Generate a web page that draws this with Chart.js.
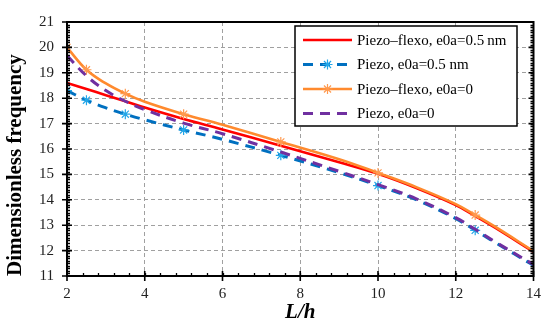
<!DOCTYPE html>
<html>
<head>
<meta charset="utf-8">
<script src="https://cdn.jsdelivr.net/npm/chart.js@4.4.0/dist/chart.umd.min.js"></script>
<style>
  body { margin: 0; background: #fff; }
  #wrap { width: 550px; height: 325px; position: relative; }
</style>
</head>
<body>
<div id="wrap"><canvas id="line-chart"></canvas></div>
<script>
// L/h values
const ratio = [2, 2.5, 3, 3.5, 4, 5, 6, 7.5, 9, 10, 11, 12, 12.5, 13, 14];
// points that carry a star marker in the original
const markerAt = [2, 2.5, 3.5, 5, 7.5, 10, 12.5];

const flexoNonlocal = [18.6, 18.36, 18.12, 17.88, 17.63, 17.18, 16.77, 16.13, 15.48, 15.02, 14.45, 13.79, 13.36, 12.91, 11.95];
const piezoNonlocal = [18.3, 17.92, 17.62, 17.37, 17.15, 16.75, 16.38, 15.75, 15.07, 14.56, 13.99, 13.26, 12.8, 12.33, 11.42];
const flexoLocal    = [20.0, 19.12, 18.58, 18.18, 17.86, 17.37, 16.95, 16.28, 15.6, 15.06, 14.49, 13.83, 13.4, 12.95, 11.98];
const piezoLocal    = [19.68, 18.88, 18.3, 17.88, 17.55, 17.02, 16.6, 15.88, 15.12, 14.6, 14.03, 13.3, 12.84, 12.36, 11.45];

const xTicks = [2, 4, 6, 8, 10, 12, 14];
const yTicks = [11, 12, 13, 14, 15, 16, 17, 18, 19, 20, 21];

const labels = ["Piezo\u2013flexo, e0a=0.5\u2009nm", "Piezo, e0a=0.5 nm", "Piezo\u2013flexo, e0a=0", "Piezo, e0a=0"];

const serif = "'Liberation Serif', 'Times New Roman', serif";

function pts(vals) {
  return ratio.map((x, i) => ({ x: x, y: vals[i] }));
}
function stars(r) {
  return ratio.map(x => markerAt.includes(x) ? r : 0);
}

// frame, tick marks and the boxed legend
const decorations = {
  id: 'decorations',
  afterDraw(chart) {
    const ctx = chart.ctx;
    const a = chart.chartArea;
    const xs = chart.scales.x, ys = chart.scales.y;
    ctx.save();
    ctx.strokeStyle = '#000';
    ctx.lineWidth = 1.3;
    ctx.beginPath();
    // minor x ticks
    for (let v = 2.4; v < 14; v += 0.4) {
      const px = Math.round(xs.getPixelForValue(v)) + 0.5;
      ctx.moveTo(px, a.bottom); ctx.lineTo(px, a.bottom - 3);
    }
    // minor y ticks, left and right
    for (let v = 11.1; v < 21; v += 0.1) {
      const py = Math.round(ys.getPixelForValue(v)) + 0.5;
      ctx.moveTo(a.left, py); ctx.lineTo(a.left + 3, py);
      ctx.moveTo(a.right, py); ctx.lineTo(a.right - 3, py);
    }
    ctx.stroke();
    ctx.lineWidth = 1.6;
    ctx.beginPath();
    xTicks.forEach(v => {
      const px = xs.getPixelForValue(v);
      ctx.moveTo(px, a.bottom - 5); ctx.lineTo(px, a.bottom + 5);
    });
    yTicks.forEach(v => {
      const py = ys.getPixelForValue(v);
      ctx.moveTo(a.left - 5, py); ctx.lineTo(a.left + 5, py);
      ctx.moveTo(a.right - 5, py); ctx.lineTo(a.right, py);
    });
    ctx.stroke();
    ctx.lineWidth = 2;
    ctx.strokeRect(a.left, a.top, a.right - a.left, a.bottom - a.top);

    // legend
    const bx = 295, by = 26, bw = 222, bh = 100;
    ctx.fillStyle = '#fff';
    ctx.fillRect(bx, by, bw, bh);
    ctx.lineWidth = 1.5;
    ctx.strokeRect(bx, by, bw, bh);
    const rows = [40, 64.5, 89, 113.5];
    chart.data.datasets.forEach((ds, i) => {
      const y = rows[i];
      ctx.save();
      ctx.strokeStyle = ds.borderColor;
      ctx.lineWidth = ds.borderWidth;
      ctx.setLineDash(ds.borderDash || []);
      ctx.beginPath();
      ctx.moveTo(303, y); ctx.lineTo(352, y);
      ctx.stroke();
      ctx.restore();
      if (ds.legendStar) {
        ctx.save();
        ctx.strokeStyle = ds.pointBorderColor;
        ctx.lineWidth = 1.2;
        ctx.beginPath();
        const r = 5;
        for (let k = 0; k < 4; k++) {
          const t = k * Math.PI / 4;
          ctx.moveTo(327.5 - r * Math.cos(t), y - r * Math.sin(t));
          ctx.lineTo(327.5 + r * Math.cos(t), y + r * Math.sin(t));
        }
        ctx.stroke();
        ctx.restore();
      }
      ctx.fillStyle = '#000';
      ctx.font = '15px ' + serif;
      ctx.textBaseline = 'middle';
      ctx.fillText(ds.label, 357, y + 1);
    });
    ctx.restore();
  }
};

new Chart(document.getElementById("line-chart"), {
  type: 'line',
  data: {
    datasets: [
      {
        label: labels[0],
        data: pts(flexoNonlocal),
        borderColor: '#ff0000',
        borderWidth: 2.6,
        pointRadius: 0,
        order: 4,
        fill: false
      },
      {
        label: labels[1],
        data: pts(piezoNonlocal),
        borderColor: '#0070c0',
        borderWidth: 3,
        borderDash: [10, 7],
        pointStyle: 'star',
        pointRadius: stars(5),
        pointBorderColor: '#22a6e8',
        pointBorderWidth: 1.2,
        legendStar: true,
        order: 3,
        fill: false
      },
      {
        label: labels[2],
        data: pts(flexoLocal),
        borderColor: '#ff8a2e',
        borderWidth: 2.6,
        pointStyle: 'star',
        pointRadius: stars(5),
        pointBorderColor: '#ff9a50',
        pointBorderWidth: 1.2,
        legendStar: true,
        order: 2,
        fill: false
      },
      {
        label: labels[3],
        data: pts(piezoLocal),
        borderColor: '#7030a0',
        borderWidth: 3,
        borderDash: [10, 7],
        pointRadius: 0,
        order: 1,
        fill: false
      }
    ]
  },
  options: {
    responsive: true,
    maintainAspectRatio: false,
    animation: false,
    layout: { padding: { left: 0, top: 13, right: 14, bottom: 0 } },
    elements: { line: { tension: 0.4 } },
    plugins: {
      legend: { display: false },
      tooltip: { enabled: false }
    },
    scales: {
      x: {
        type: 'linear',
        min: 2,
        max: 14,
        afterFit: s => { s.height = 49; },
        afterBuildTicks: s => { s.ticks = xTicks.map(v => ({ value: v })); },
        grid: { color: '#a0a0a0', lineWidth: 1, drawTicks: false },
        border: { display: false, dash: [4, 3] },
        ticks: { color: '#222', padding: 9, font: { family: serif, size: 15 } },
        title: {
          display: true,
          text: 'L/h',
          color: '#000',
          padding: { top: 0, bottom: 0 },
          font: { family: serif, size: 21, weight: 'bold', style: 'italic' }
        }
      },
      y: {
        min: 11,
        max: 21,
        afterFit: s => { s.width = 67; },
        afterBuildTicks: s => { s.ticks = yTicks.map(v => ({ value: v })); },
        grid: { color: '#a0a0a0', lineWidth: 1, drawTicks: false },
        border: { display: false, dash: [4, 3] },
        ticks: { color: '#222', padding: 13, font: { family: serif, size: 15 } },
        title: {
          display: true,
          text: 'Dimensionless frequency',
          color: '#000',
          align: 'start',
          padding: { top: 3, bottom: 0 },
          font: { family: serif, size: 21, weight: 'bold' }
        }
      }
    }
  },
  plugins: [decorations]
});
</script>
</body>
</html>
